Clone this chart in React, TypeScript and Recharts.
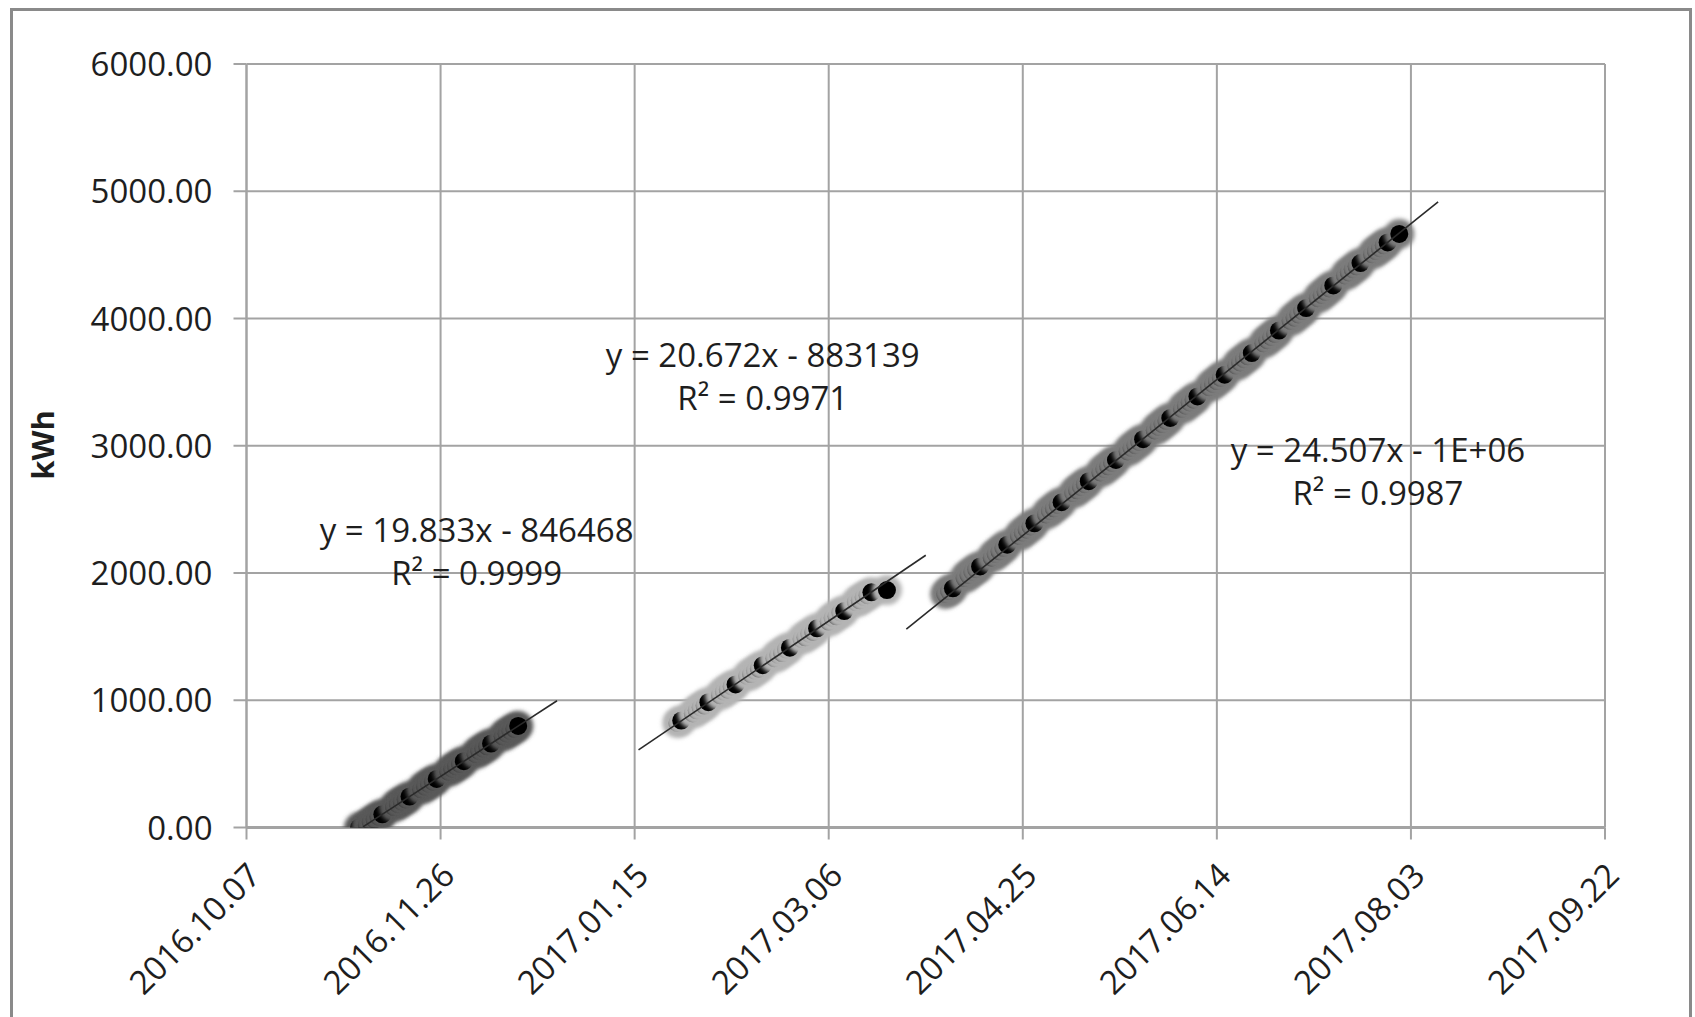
import React from 'react';
import { ScatterChart, Scatter, XAxis, YAxis, CartesianGrid } from 'recharts';

// X values are Excel date serials (days), Y values are kWh
const xTicks = [42650, 42700, 42750, 42800, 42850, 42900, 42950, 43000];
const yTicks = [0, 1000, 2000, 3000, 4000, 5000, 6000];

const series1Days = [42679, 42681, 42682, 42683, 42684, 42685, 42688, 42689, 42690, 42691, 42692, 42695, 42696, 42697, 42698, 42699, 42702, 42703, 42704, 42705, 42706, 42709, 42710, 42711, 42712, 42713, 42716, 42717, 42718, 42719, 42720];
const series1Kwh = [0, 22, 45, 63, 85, 104, 161, 184, 203, 221, 243, 300, 322, 343, 360, 382, 439, 462, 481, 499, 521, 578, 601, 620, 638, 660, 717, 739, 759, 776, 798];

const series2Days = [42761, 42762, 42765, 42766, 42767, 42768, 42769, 42772, 42773, 42774, 42775, 42776, 42779, 42780, 42781, 42782, 42783, 42786, 42787, 42788, 42789, 42790, 42793, 42794, 42795, 42796, 42797, 42800, 42801, 42802, 42803, 42804, 42807, 42808, 42809, 42810, 42811, 42815];
const series2Kwh = [822, 840, 896, 921, 944, 958, 985, 1040, 1068, 1083, 1109, 1124, 1192, 1206, 1233, 1248, 1275, 1330, 1357, 1371, 1399, 1413, 1482, 1495, 1523, 1537, 1565, 1618, 1648, 1660, 1690, 1701, 1772, 1785, 1812, 1826, 1848, 1866];

const series3Days = [42830, 42831, 42832, 42835, 42836, 42837, 42838, 42839, 42842, 42843, 42844, 42845, 42846, 42849, 42850, 42851, 42852, 42853, 42856, 42857, 42858, 42859, 42860, 42863, 42864, 42865, 42866, 42867, 42870, 42871, 42872, 42873, 42874, 42877, 42878, 42879, 42880, 42881, 42884, 42885, 42886, 42887, 42888, 42891, 42892, 42893, 42894, 42895, 42898, 42899, 42900, 42901, 42902, 42905, 42906, 42907, 42908, 42909, 42912, 42913, 42914, 42915, 42916, 42919, 42920, 42921, 42922, 42923, 42926, 42927, 42928, 42929, 42930, 42933, 42934, 42935, 42936, 42937, 42940, 42941, 42942, 42943, 42944, 42947];
const series3Kwh = [1835, 1858, 1880, 1960, 1985, 2010, 2030, 2052, 2120, 2150, 2170, 2198, 2222, 2292, 2318, 2340, 2366, 2390, 2460, 2488, 2508, 2535, 2556, 2628, 2650, 2676, 2698, 2722, 2790, 2818, 2838, 2866, 2888, 2955, 2984, 3004, 3030, 3052, 3120, 3148, 3170, 3196, 3218, 3290, 3315, 3340, 3362, 3388, 3460, 3486, 3508, 3534, 3558, 3630, 3655, 3680, 3703, 3728, 3805, 3830, 3855, 3880, 3905, 3982, 4006, 4032, 4058, 4082, 4160, 4185, 4210, 4236, 4260, 4338, 4362, 4388, 4410, 4436, 4505, 4530, 4552, 4575, 4598, 4665];

// Linear trendlines (y = slope * x + intercept), drawn over [start, end]
const trendSlopes = [19.833, 20.672, 24.507];
const trendIntercepts = [-846468, -883139, -1047830];
const trendStarts = [42680, 42751, 42820];
const trendEnds = [42730, 42825, 42957];

const eqTexts = ['y = 19.833x - 846468', 'y = 20.672x - 883139', 'y = 24.507x - 1E+06'];
const r2Texts = ['R\u00B2 = 0.9999', 'R\u00B2 = 0.9971', 'R\u00B2 = 0.9987'];
const labelDays = [42709.3, 42783.0, 42941.5];
const labelKwh = [2340, 3716, 2969];

const haloColors = ['#595959', '#b4b4b4', '#7c7c7c'];

const FONT = '"Open Sans", "Liberation Sans", sans-serif';
const TEXT = '#1e1e1e';
const GRID = '#a3a3a3';

const pad = (n: number) => (n < 10 ? '0' + n : '' + n);
const fmtDate = (serial: number) => {
  const d = new Date(Date.UTC(1899, 11, 30) + serial * 86400000);
  return `${d.getUTCFullYear()}.${pad(d.getUTCMonth() + 1)}.${pad(d.getUTCDate())}`;
};

const toPoints = (days: number[], vals: number[]) => days.map((x, i) => ({ x, y: vals[i] }));

const makeMarker = (color: string) => (props: any) => {
  const { cx, cy } = props;
  if (cx == null || cy == null) return <g />;
  return (
    <g>
      <circle cx={cx} cy={cy} r={15} fill={color} filter="url(#softHalo)" />
      <circle cx={cx} cy={cy} r={9} fill="#000" />
    </g>
  );
};

const XTick = (props: any) => {
  const { x, y, payload } = props;
  return (
    <text
      transform={`translate(${x + 16},${y + 36}) rotate(-45)`}
      textAnchor="end"
      fontFamily={FONT}
      fontSize={33}
      fill={TEXT}
    >
      {fmtDate(payload.value)}
    </text>
  );
};

const YTick = (props: any) => {
  const { x, y, payload } = props;
  return (
    <text x={x - 19} y={y + 12} textAnchor="end" fontFamily={FONT} fontSize={33} fill={TEXT}>
      {Number(payload.value).toFixed(2)}
    </text>
  );
};

const LabelShape = (props: any) => {
  const { cx, cy, payload } = props;
  if (cx == null || cy == null) return <g />;
  return (
    <g>
      <text x={cx} y={cy + 12} textAnchor="middle" fontFamily={FONT} fontSize={33} fill={TEXT}>
        {payload.eq}
      </text>
      <text x={cx} y={cy + 55} textAnchor="middle" fontFamily={FONT} fontSize={33} fill={TEXT}>
        {payload.r2}
      </text>
    </g>
  );
};

const NoShape = () => <g />;

export default function App() {
  const s1 = toPoints(series1Days, series1Kwh);
  const s2 = toPoints(series2Days, series2Kwh);
  const s3 = toPoints(series3Days, series3Kwh);
  const trends = trendSlopes.map((m, i) => [
    { x: trendStarts[i], y: m * trendStarts[i] + trendIntercepts[i] },
    { x: trendEnds[i], y: m * trendEnds[i] + trendIntercepts[i] },
  ]);
  const labels = labelDays.map((x, i) => ({ x, y: labelKwh[i], eq: eqTexts[i], r2: r2Texts[i] }));

  return (
    <div
      style={{
        position: 'absolute',
        left: 0,
        top: 0,
        width: 1695,
        height: 1017,
        overflow: 'hidden',
        background: '#fff',
      }}
    >
      <svg width={0} height={0} style={{ position: 'absolute' }}>
        <defs>
          <filter id="softHalo" x="-50%" y="-50%" width="200%" height="200%">
            <feGaussianBlur stdDeviation={2} />
          </filter>
        </defs>
      </svg>
      <div
        style={{
          position: 'absolute',
          left: 10,
          top: 8,
          width: 1682,
          height: 1040,
          border: '3px solid #8a8a8a',
          boxSizing: 'border-box',
        }}
      />
      <div style={{ position: 'absolute', left: 0, top: 0 }}>
        <ScatterChart width={1695} height={1017} margin={{ top: 64, right: 90, bottom: 0, left: 0 }}>
          <CartesianGrid stroke={GRID} strokeWidth={2} horizontalValues={yTicks} verticalValues={xTicks} />
          <XAxis
            type="number"
            dataKey="x"
            domain={[42650, 43000]}
            ticks={xTicks}
            interval={0}
            height={189.5}
            tickSize={12}
            tick={<XTick />}
            axisLine={{ stroke: GRID, strokeWidth: 3 }}
            tickLine={{ stroke: GRID, strokeWidth: 2 }}
            allowDataOverflow
          />
          <YAxis
            type="number"
            dataKey="y"
            domain={[0, 6000]}
            ticks={yTicks}
            interval={0}
            width={246.5}
            tickSize={13}
            tick={<YTick />}
            axisLine={{ stroke: GRID, strokeWidth: 2 }}
            tickLine={{ stroke: GRID, strokeWidth: 2 }}
            allowDataOverflow
            label={{
              content: () => (
                <text
                  transform="translate(54,445) rotate(-90)"
                  textAnchor="middle"
                  fontFamily={FONT}
                  fontSize={31}
                  fontWeight="bold"
                  fill={TEXT}
                >
                  kWh
                </text>
              ),
            }}
          />
          <Scatter data={s1} shape={makeMarker(haloColors[0])} isAnimationActive={false} />
          <Scatter data={s2} shape={makeMarker(haloColors[1])} isAnimationActive={false} />
          <Scatter data={s3} shape={makeMarker(haloColors[2])} isAnimationActive={false} />
          {trends.map((t, i) => (
            <Scatter
              key={'t' + i}
              data={t}
              line={{ stroke: '#2a2a2a', strokeWidth: 1.6 }}
              lineType="joint"
              shape={NoShape}
              isAnimationActive={false}
            />
          ))}
          <Scatter data={labels} shape={LabelShape} isAnimationActive={false} />
        </ScatterChart>
      </div>
    </div>
  );
}
